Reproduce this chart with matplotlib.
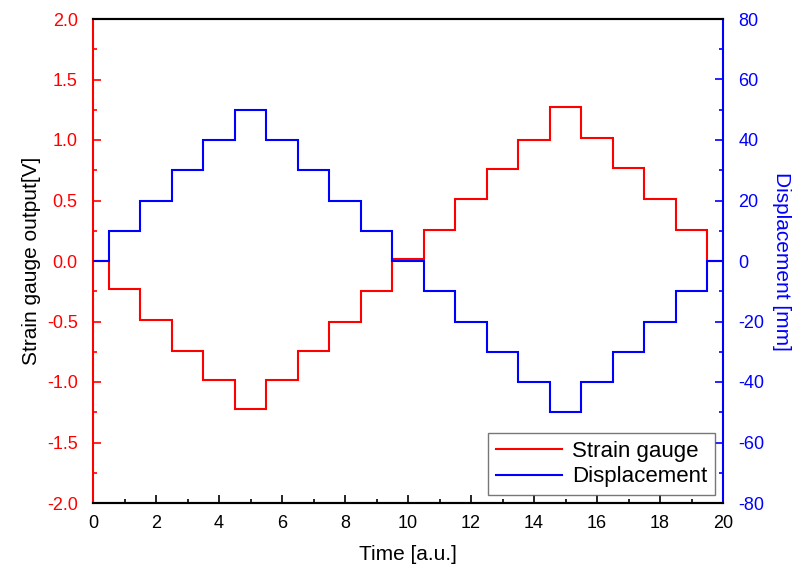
import matplotlib
matplotlib.use("Agg")
import matplotlib.pyplot as plt
from matplotlib.ticker import MultipleLocator

plt.rcParams['font.family'] = ['Liberation Sans', 'DejaVu Sans']
plt.rcParams['axes.unicode_minus'] = False

# Step edges (time) and step values
edges = [0, 0.5, 1.5, 2.5, 3.5, 4.5, 5.5, 6.5, 7.5, 8.5, 9.5,
         10.5, 11.5, 12.5, 13.5, 14.5, 15.5, 16.5, 17.5, 18.5, 19.5, 20]
strain = [0.0, -0.23, -0.49, -0.74, -0.98, -1.22, -0.98, -0.74, -0.50, -0.25, 0.02,
          0.26, 0.51, 0.76, 1.00, 1.27, 1.02, 0.77, 0.51, 0.26, 0.0]
displacement = [0, 10, 20, 30, 40, 50, 40, 30, 20, 10, 0,
                -10, -20, -30, -40, -50, -40, -30, -20, -10, 0]

fig = plt.figure(figsize=(7.93, 5.75), dpi=100)
ax = fig.add_axes([93/793, 1 - 503/575, (723-93)/793, (503-19)/575])
ax2 = ax.twinx()

l1 = ax.stairs(strain, edges, baseline=None, color='#ff0000', lw=1.5, label='Strain gauge')
l2 = ax2.stairs(displacement, edges, baseline=None, color='#0000ff', lw=1.5, label='Displacement')

ax.set_xlim(0, 20)
ax.set_ylim(-2, 2)
ax2.set_ylim(-80, 80)

ax.xaxis.set_major_locator(MultipleLocator(2))
ax.xaxis.set_minor_locator(MultipleLocator(1))
ax.yaxis.set_major_locator(MultipleLocator(0.5))
ax.yaxis.set_minor_locator(MultipleLocator(0.25))
ax2.yaxis.set_major_locator(MultipleLocator(20))
ax2.yaxis.set_minor_locator(MultipleLocator(10))
ax.yaxis.set_major_formatter(matplotlib.ticker.FormatStrFormatter('%.1f'))

for a in (ax, ax2):
    for s in a.spines.values():
        s.set_linewidth(1.5)
ax.spines['left'].set_color('#ff0000')
ax2.spines['left'].set_visible(False)
ax.spines['right'].set_visible(False)
ax2.spines['right'].set_color('#0000ff')
ax.spines['top'].set_color('black')
ax.spines['bottom'].set_color('black')

ax.tick_params(axis='x', which='both', direction='in', top=False, colors='black', labelsize=13, pad=9)
ax.tick_params(axis='x', which='major', length=6, width=1.2)
ax.tick_params(axis='x', which='minor', length=3, width=1.2)
ax.tick_params(axis='y', which='both', direction='in', colors='#ff0000', labelsize=13, width=1.2, pad=11)
ax.tick_params(axis='y', which='major', length=6)
ax.tick_params(axis='y', which='minor', length=3)
ax2.tick_params(axis='y', which='both', direction='in', colors='#0000ff', labelsize=13, width=1.2, pad=11)
ax2.tick_params(axis='y', which='major', length=6)
ax2.tick_params(axis='y', which='minor', length=3)

ax.set_xlabel('Time [a.u.]', fontsize=15, labelpad=9)
ax.set_ylabel('Strain gauge output[V]', fontsize=15, labelpad=4)
ax2.set_ylabel('Displacement [mm]', fontsize=15, color='#0000ff', rotation=270, labelpad=19)

leg = ax2.legend([l1, l2], ['Strain gauge', 'Displacement'], loc='lower right',
                 fontsize=16, frameon=True, fancybox=False, edgecolor='#555555',
                 handlelength=3.0, borderaxespad=0.35, handletextpad=0.45,
                 labelspacing=0.2, borderpad=0.35, bbox_to_anchor=(1.0, 0.0))
leg.get_frame().set_linewidth(1.0)

fig.savefig('out.png', dpi=100)
